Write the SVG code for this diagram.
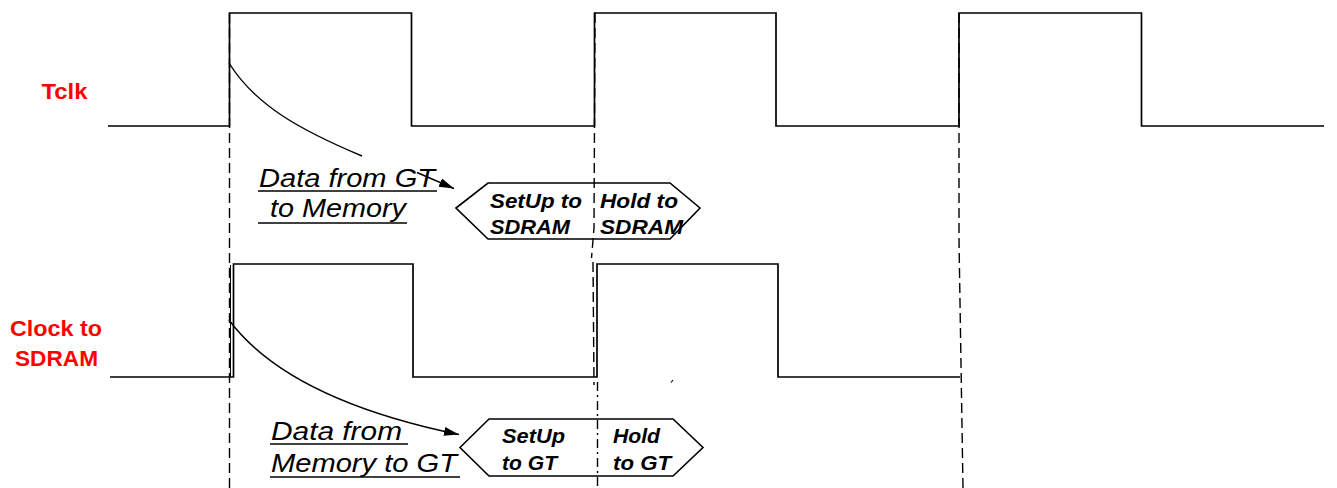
<svg xmlns="http://www.w3.org/2000/svg" width="1337" height="488" viewBox="0 0 1337 488">
<style>
.wave{fill:none;stroke:#000;stroke-width:1.7}
.dash{fill:none;stroke:#000;stroke-width:1.4;stroke-dasharray:10,5}
.dashdot{fill:none;stroke:#000;stroke-width:1.4;stroke-dasharray:9,4,2,4}
.curve{fill:none;stroke:#000;stroke-width:1.4}
.hex{fill:#fff;stroke:#000;stroke-width:1.6}
.ul{stroke:#000;stroke-width:1.7}
.lbl{font-family:"Liberation Sans",Arial,sans-serif;font-weight:bold;fill:#ff0000}
.it{font-family:"Liberation Sans",Arial,sans-serif;font-style:italic;font-size:26.5px;fill:#000}
.hx{font-family:"Liberation Sans",Arial,sans-serif;font-style:italic;font-weight:bold;font-size:19.5px;fill:#000}
</style>
<defs>
<marker id="ah" markerUnits="userSpaceOnUse" markerWidth="16" markerHeight="10" refX="15" refY="4.5" orient="auto">
<path d="M0,0 L15,4.5 L0,9 z" fill="#000"/>
</marker>
</defs>

<g id="label-tclk">
<text class="lbl" x="41.5" y="98.5" font-size="22.5" textLength="46" lengthAdjust="spacingAndGlyphs">Tclk</text>
</g>
<g id="label-clock-sdram">
<text class="lbl" x="56" y="335.5" font-size="21.5" text-anchor="middle" textLength="92" lengthAdjust="spacingAndGlyphs">Clock to</text>
<text class="lbl" x="56.5" y="365.5" font-size="21.5" text-anchor="middle" textLength="83" lengthAdjust="spacingAndGlyphs">SDRAM</text>
</g>

<g id="wave-tclk">
<path class="wave" d="M108,126 H229.5 V13 H411.5 V126 H594.5 V13 H776 V126 H959 V13 H1141.5 V126 H1324"/>
</g>
<g id="wave-clock-sdram">
<path class="wave" d="M110,377 H233.5 V264 H413 V377 H597 V264 H778 V377 H960"/>
<line x1="230.5" y1="265" x2="230.5" y2="377" stroke="#000" stroke-width="1"/>
</g>

<g id="hex-sdram">
<path class="hex" d="M456,208 L488,183 H670 L700,208 L670,239 H488 Z"/>
<text class="hx" x="490" y="207.5" textLength="92" lengthAdjust="spacingAndGlyphs">SetUp to</text>
<text class="hx" x="490" y="234" textLength="80" lengthAdjust="spacingAndGlyphs">SDRAM</text>
<text class="hx" x="600" y="207.5" textLength="78" lengthAdjust="spacingAndGlyphs">Hold to</text>
<text class="hx" x="600" y="234" textLength="83" lengthAdjust="spacingAndGlyphs">SDRAM</text>
</g>

<g id="hex-gt">
<path class="hex" d="M460,447.5 L489,419 H673 L703,447.5 L673,476 H489 Z"/>
<text class="hx" x="502" y="443" textLength="63" lengthAdjust="spacingAndGlyphs">SetUp</text>
<text class="hx" x="502" y="469.5" textLength="55" lengthAdjust="spacingAndGlyphs">to GT</text>
<text class="hx" x="613" y="443" textLength="47" lengthAdjust="spacingAndGlyphs">Hold</text>
<text class="hx" x="613" y="469.5" textLength="58" lengthAdjust="spacingAndGlyphs">to GT</text>
</g>

<g id="text-gt-to-mem">
<text class="it" x="259" y="186.5" textLength="176" lengthAdjust="spacingAndGlyphs">Data from GT</text>
<text class="it" x="270" y="217" textLength="136" lengthAdjust="spacingAndGlyphs">to Memory</text>
<line class="ul" x1="258" y1="191" x2="437" y2="191"/>
<line class="ul" x1="258" y1="223" x2="407" y2="223"/>
</g>

<g id="text-mem-to-gt">
<text class="it" x="271" y="439.5" textLength="131" lengthAdjust="spacingAndGlyphs">Data from</text>
<text class="it" x="271" y="471.5" textLength="186" lengthAdjust="spacingAndGlyphs">Memory to GT</text>
<line class="ul" x1="270" y1="444" x2="408" y2="444"/>
<line class="ul" x1="270" y1="477" x2="460" y2="477"/>
</g>

<g id="connectors">
<path class="dash" d="M229.5,13 V488"/>
<path class="dash" d="M595,13 L594,228 L591.5,258"/>
<path class="dash" d="M593,262 L594,385"/>
<path class="dashdot" d="M597.5,382 V488"/>
<path class="dash" d="M959,13 L959,240 L963,488"/>
<path class="curve" d="M229,63 C255,105 300,130 362,156"/>
<path class="curve" d="M417,172.5 L454,188.5" marker-end="url(#ah)"/>
<path class="curve" d="M229,320 C270,375 350,412 459,434.5" marker-end="url(#ah)"/>
<path d="M671,382.5 L673,380" stroke="#000" stroke-width="1.2"/>
</g>
</svg>
